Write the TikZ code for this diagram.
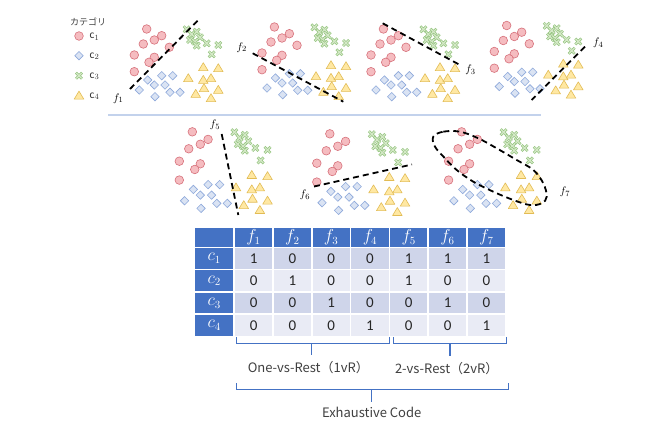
\documentclass[tikz,border=0pt]{standalone}
\usepackage{fontspec}
\setmainfont{Carlito}
\newfontfamily\jpfont{Noto Sans CJK JP}
\definecolor{cfill}{HTML}{F5BCC0}
\definecolor{cdraw}{HTML}{D7717B}
\definecolor{dfill}{HTML}{DAE3F3}
\definecolor{ddraw}{HTML}{8EA9DB}
\definecolor{xdark}{HTML}{93C47D}
\definecolor{xlight}{HTML}{D5E8C8}
\definecolor{tfill}{HTML}{FFE8A3}
\definecolor{tdraw}{HTML}{E2BC55}
\definecolor{hblue}{HTML}{4472C4}
\definecolor{rowa}{HTML}{CFD5EA}
\definecolor{rowb}{HTML}{E9EBF5}
\definecolor{sepline}{HTML}{C3D2EC}
\definecolor{txtgray}{HTML}{404040}
\tikzset{
  circmk/.pic={\draw[cdraw,fill=cfill,line width=0.6pt] (0,0) circle (4.3);},
  diammk/.pic={\draw[ddraw,fill=dfill,line width=0.6pt] (0,-4.2)--(4.2,0)--(0,4.2)--(-4.2,0)--cycle;},
  trimk/.pic={\draw[tdraw,fill=tfill,line width=0.6pt,line join=round] (0,-4.6)--(4.8,3.4)--(-4.8,3.4)--cycle;},
  crossmk/.pic={\draw[xdark,line width=2.6pt] (-3,-3)--(3,3) (-3,3)--(3,-3);
                \draw[xlight,line width=1.2pt] (-2.7,-2.7)--(2.7,2.7) (-2.7,2.7)--(2.7,-2.7);},
  sep/.style={dash pattern=on 6pt off 4pt, line width=1.8pt, black},
  flabel/.style={font=\fontsize{11}{11}\selectfont, inner sep=1pt},
  hdr/.style={fill=hblue, text=white, inner sep=0pt, minimum height=18.4pt, minimum width=37.1pt, font=\fontsize{16}{16}\selectfont},
  datacell/.style={inner sep=0pt, minimum height=20.6pt, minimum width=37.1pt, text=black!85, font=\fontsize{15}{15}\selectfont},
  brace/.style={hblue, line width=1.5pt},
  captxt/.style={text=txtgray, font=\jpfont\fontsize{13}{13}\selectfont, inner sep=1pt},
  legtxt/.style={anchor=west, inner sep=0pt, font=\fontsize{11.5}{11.5}\selectfont, text=black!80}
}
\newcommand\drawpanel[4]{%
  \def\ox{#1}\def\oy{#2}\def\sx{#3}\def\sy{#4}%
  \foreach \a/\b in {12.7/1, 27.7/7.7, 20.3/12, 9.3/16, 0.3/27, 20.3/29.3, 15/34.3, 0.3/43.7}
    \pic at ({\ox+\sx*\a},{\oy+\sy*\b}) {circmk};
  \foreach \a/\b in {52.7/1.3, 57.7/6.3, 62.7/3.7, 66/9.3, 56/12, 61/13.7, 72.7/15.3, 62.7/17.7, 84.3/17, 77.7/26.3}
    \pic at ({\ox+\sx*\a},{\oy+\sy*\b}) {crossmk};
  \foreach \a/\b in {27.7/47.7, 38.7/47.7, 13.7/52, 20.3/57, 31/57, 5.3/62, 36/64.3, 46/64.3, 21/68.7}
    \pic at ({\ox+\sx*\a},{\oy+\sy*\b}) {diammk};
  \foreach \a/\b in {69.3/39.3, 84.3/40.3, 54.3/50.3, 69.3/52, 77/50.3, 70/60.3, 84.3/62, 61.7/66, 77/70.3}
    \pic at ({\ox+\sx*\a},{\oy+\sy*\b}) {trimk};
}
\begin{document}
\begin{tikzpicture}[x=1pt,y=-1pt]
\useasboundingbox[fill=white] (0,0) rectangle (670,425);

% legend
\node[font=\jpfont\fontsize{9}{9}\selectfont, text=txtgray, anchor=west, inner sep=0pt] (legtitle) at (70,21.5) {カテゴリ};
\pic at (79,36) {circmk};
\pic at (79,55.7) {diammk};
\pic at (79,75.7) {crossmk};
\pic at (79,95.7) {trimk};
\node[legtxt] (lc1) at (89.5,36.5) {$\mathrm{c}_1$};
\node[legtxt] (lc2) at (89.5,56.2) {$\mathrm{c}_2$};
\node[legtxt] (lc3) at (89.5,76.2) {$\mathrm{c}_3$};
\node[legtxt] (lc4) at (89.5,96.2) {$\mathrm{c}_4$};

% row 1 panels
\drawpanel{134}{28}{1}{1}
\drawpanel{261.7}{26}{1}{1}
\drawpanel{370.7}{28}{1}{1}
\drawpanel{494}{24.5}{1}{1}
\foreach \ox/\oy in {134/28, 261.7/26, 370.7/28, 494/24.5}
  \pic at ({\ox+35.3},{\oy+19.3}) {circmk};

% row 2 panels
\drawpanel{179}{130.7}{1.05}{1.13}
\drawpanel{316.5}{132.7}{1.05}{1.13}
\drawpanel{448.3}{130.7}{1.05}{1.13}

% separator
\draw[sepline, line width=1.2pt] (108.3,115) -- (541,115);

% classifier boundaries
\coordinate (f1a) at (130,89); \coordinate (f1b) at (200,18.3);
\draw[sep] (f1a) -- (f1b);
\node[flabel] (lf1) at (118.3,98.3) {$f_1$};
\coordinate (f2a) at (252.7,53.3); \coordinate (f2b) at (343.3,101.7);
\draw[sep] (f2a) -- (f2b);
\node[flabel] (lf2) at (241.7,47.5) {$f_2$};
\coordinate (f3a) at (382.7,23.3); \coordinate (f3b) at (460,65);
\draw[sep] (f3a) -- (f3b);
\node[flabel] (lf3) at (470.5,70) {$f_3$};
\coordinate (f4a) at (585,46.7); \coordinate (f4b) at (531.7,100);
\draw[sep] (f4a) -- (f4b);
\node[flabel] (lf4) at (598.3,42.7) {$f_4$};
\coordinate (f5a) at (221.7,134); \coordinate (f5b) at (238.3,215);
\draw[sep] (f5a) -- (f5b);
\node[flabel] (lf5) at (215,125) {$f_5$};
\coordinate (f6a) at (314,186.5); \coordinate (f6b) at (412,164.5);
\draw[sep] (f6a) -- (f6b);
\node[flabel] (lf6) at (305,195) {$f_6$};
\draw[sep] plot[smooth cycle, tension=0.6] coordinates {(433.3,136.7) (443.3,131.7) (460,131.7) (478.3,138.3) (496.7,148.3) (516.7,160) (533.3,170) (543.3,183.3) (546.7,196.7) (541.7,203.3) (530,205) (513.3,200) (493.3,191.7) (473.3,181.7) (456.7,170) (445,158.3) (435,146.7)};
\node[flabel] (lf7) at (565,191.7) {$f_7$};

% table
\node[hdr, minimum width=38.3pt] (corner) at (214.15,237.5) {};
\foreach \j in {1,...,7}
  \node[hdr] (h\j) at ({253.55+38.8*(\j-1)},237.5) {$f_{\j}$};
\foreach \i/\vals in {1/{1,0,0,0,1,1,1}, 2/{0,1,0,0,1,0,0}, 3/{0,0,1,0,0,1,0}, 4/{0,0,0,1,0,0,1}} {
  \pgfmathsetmacro\yy{258.3+22.4*(\i-1)}
  \ifodd\i \def\rc{rowa}\else\def\rc{rowb}\fi
  \node[hdr, minimum width=38.3pt, minimum height=20.6pt] (r\i) at (214.15,\yy) {$c_{\i}$};
  \foreach \v [count=\j] in \vals
    \node[datacell, fill=\rc] (cell-\i-\j) at ({253.55+38.8*(\j-1)},\yy) {\v};
}

% braces
\draw[brace] (236.7,337.3) -- (236.7,343.3) -- (389.3,343.3) -- (389.3,337.3);
\draw[brace] (311.7,343.3) -- (311.7,355);
\draw[brace] (393.3,337.3) -- (393.3,343.3) -- (506.7,343.3) -- (506.7,337.3);
\draw[brace] (450,343.3) -- (450,356);
\draw[brace] (236.7,383.3) -- (236.7,389.3) -- (508.3,389.3) -- (508.3,383.3);
\draw[brace] (371.7,389.3) -- (371.7,401.7);

\node[captxt] (ovr) at (308.3,367.3) {One-vs-Rest（1vR）};
\node[captxt] (tvr) at (446.7,368.3) {2-vs-Rest（2vR）};
\node[captxt] (exh) at (371.7,412.7) {Exhaustive Code};
\end{tikzpicture}
\end{document}
